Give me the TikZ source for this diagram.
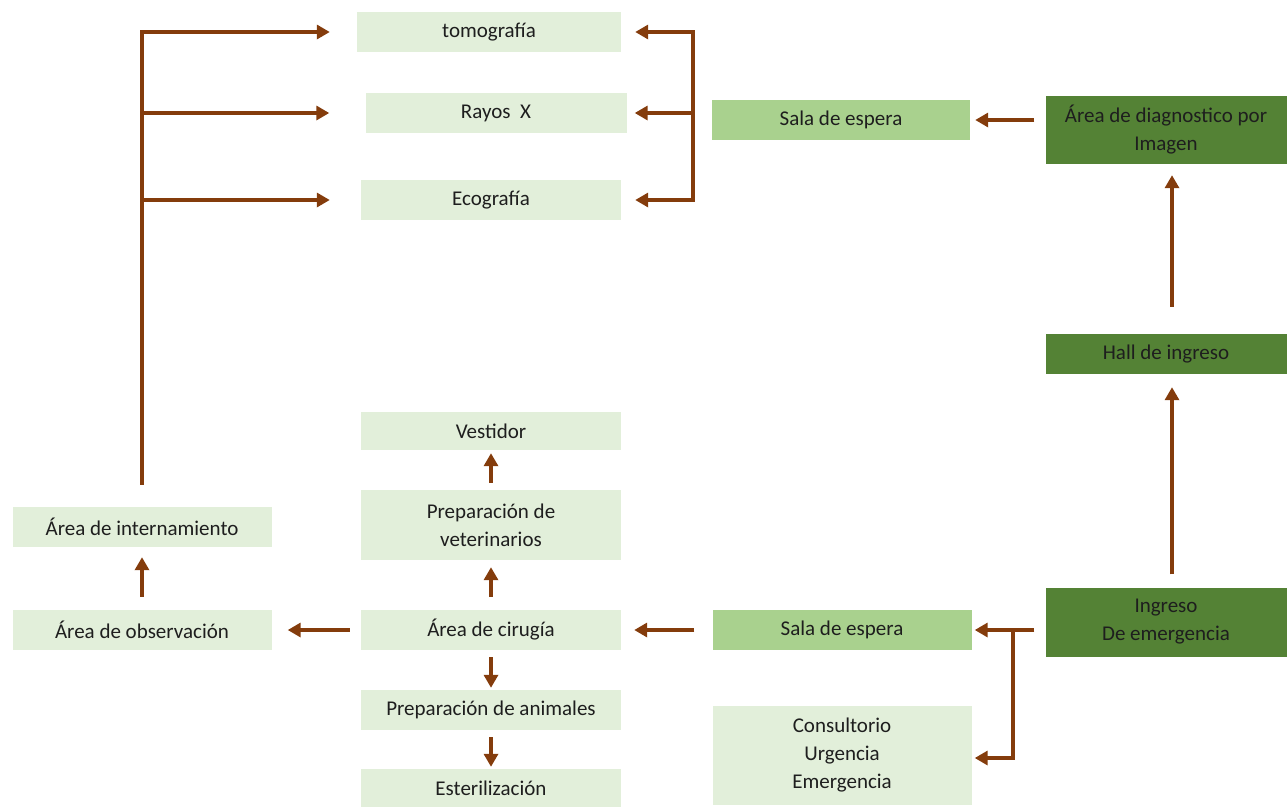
\documentclass[tikz,border=0pt]{standalone}
\usepackage{fontspec}
\setmainfont{Carlito}
\usetikzlibrary{arrows.meta}
\definecolor{boxlight}{RGB}{226,239,218}
\definecolor{boxmid}{RGB}{169,209,142}
\definecolor{boxdark}{RGB}{84,130,53}
\definecolor{flowbrown}{RGB}{132,60,12}
\definecolor{txt}{RGB}{30,30,30}
\tikzset{
  area/.style={fill=boxlight, text=txt, minimum width=260pt, minimum height=40pt,
    inner sep=0pt, align=center, font=\fontsize{21}{28}\selectfont},
  sala/.style={area, fill=boxmid},
  ingreso/.style={area, fill=boxdark, minimum width=241pt},
  flow/.style={draw=flowbrown, line width=3.5pt,
    -{Triangle[length=13pt,width=14pt]}},
}
\begin{document}
\begin{tikzpicture}[x=1pt,y=-1pt]
      \useasboundingbox (0,0) rectangle (1287,807);
      \draw
        (489,32) node[area, minimum width=264pt] (tomo){tomografía}
        (496,113) node[area, minimum width=261pt] (rayos){Rayos\ \ X}
        (491,200) node[area] (eco){Ecografía}
        (841,120) node[sala, minimum width=258pt] (sala1){Sala de espera}
        (1166,130) node[ingreso, minimum height=68pt] (diag){Área de diagnostico por\\Imagen}
        (1166,354) node[ingreso] (hall){Hall de ingreso}
        (1166,622) node[ingreso, minimum height=69pt] (ingr){Ingreso\\De emergencia}
        (842,630) node[sala, minimum width=259pt] (sala2){Sala de espera}
        (842,755) node[area, minimum width=259pt, minimum height=99pt] (cons){Consultorio\\Urgencia\\Emergencia}
        (491,630) node[area] (cir){Área de cirugía}
        (491,710) node[area] (prepani){Preparación de animales}
        (491,788) node[area, minimum height=38pt] (ester){Esterilización}
        (491,525) node[area, minimum height=70pt] (prepvet){Preparación de\\veterinarios}
        (491,431) node[area, minimum height=38pt] (vest){Vestidor}
        (142,630) node[area, minimum width=259pt] (obs){Área de observación}
        (142,527) node[area, minimum width=259pt] (inter){Área de internamiento};
      \coordinate (brk) at (693,0);
      \coordinate (split) at (1013,0);
      \begin{scope}[flow]
        \draw[shorten <=22pt, shorten >=27pt] (inter) |- (tomo);
        \draw[shorten <=22pt, shorten >=36pt] (inter) |- (rayos);
        \draw[shorten <=22pt, shorten >=31pt] (inter) |- (eco);
        \draw[-, line cap=rect] (brk |- tomo.west) -- (brk |- eco);
        \draw[shorten >=14pt] (brk |- tomo.west) -- (tomo.east);
        \draw[shorten >=8pt] (brk |- rayos) -- (rayos);
        \draw[shorten >=14pt] (brk |- eco) -- (eco);
        \draw[shorten <=11pt, shorten >=5pt] (diag.west |- sala1) -- (sala1);
        \draw[shorten <=27pt, shorten >=11pt] ([xshift=6pt]hall.north) -- ([xshift=6pt]diag.south);
        \draw[shorten <=13pt, shorten >=13pt] ([xshift=6pt]ingr.north) -- ([xshift=6pt]hall.south);
        \draw[shorten <=11pt, shorten >=3pt] (ingr.west |- sala2) -- (sala2);
        \draw[shorten >=3pt] (split |- sala2) |- ([yshift=-3pt]cons.east);
        \draw[shorten <=18pt, shorten >=13pt] (sala2) -- (cir);
        \draw[shorten <=11pt, shorten >=16pt] (cir) -- (obs);
        \draw[shorten <=13pt, shorten >=10pt] (obs) -- (inter);
        \draw[shorten <=13pt, shorten >=7pt] (cir) -- (prepvet);
        \draw[shorten <=7pt, shorten >=3pt] (prepvet) -- (vest);
        \draw[shorten <=7pt, shorten >=2pt] (cir) -- (prepani);
        \draw[shorten <=7pt, shorten >=2pt] (prepani) -- (ester);
      \end{scope}
    \end{tikzpicture}
\end{document}
